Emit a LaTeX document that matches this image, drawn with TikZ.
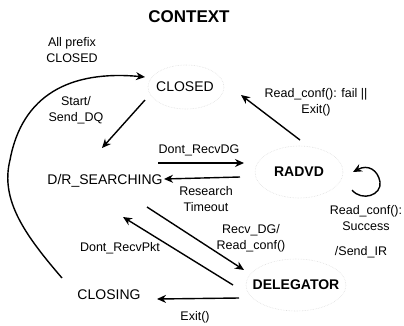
\documentclass[tikz,border=0pt]{standalone}
\usepackage{fontspec}
\setmainfont{Liberation Sans}
\usetikzlibrary{arrows.meta}
\begin{document}
\begin{tikzpicture}[x=1pt,y=-1pt,
  state/.style={inner sep=0pt,font=\fontsize{14}{14}\selectfont},
  bstate/.style={inner sep=0pt,font=\fontsize{14}{14}\selectfont\bfseries},
  lbl/.style={inner sep=0pt,align=center,font=\fontsize{12.5}{16}\selectfont},
  arr/.style={line width=1.4pt,-{Stealth[length=9pt,width=8pt]}},
  halo/.style={draw=black!13,densely dotted,line width=0.6pt}]
\useasboundingbox (0,0) rectangle (404,325);
% faint halos
\draw[halo] (186,87) ellipse (38 and 22);
\draw[halo] (299,172) ellipse (44 and 26);
\draw[halo] (296,285) ellipse (50 and 26);
% title
\node[inner sep=0pt,font=\fontsize{17}{17}\selectfont\bfseries] (title) at (189,17) {CONTEXT};
% states
\node[state] (closed) at (185,87) {CLOSED};
\node[state] (search) at (105,181) {D/R\_SEARCHING};
\node[bstate] (radvd) at (299,172) {RADVD};
\node[bstate] (deleg) at (296,285) {DELEGATOR};
\node[state] (closing) at (109,295) {CLOSING};
% labels
\node[lbl] (lprefix) at (72,50) {All prefix\\CLOSED};
\node[lbl] (lstart) at (76,110) {Start/\\Send\_DQ};
\node[lbl] (ldrdg) at (199,150) {Dont\_RecvDG};
\node[lbl] (lres) at (206,199) {Research\\Timeout};
\node[lbl] (lfail) at (316,102) {Read\_conf(): fail ||\\Exit()};
\node[lbl] (lsucc) at (366,218) {Read\_conf():\\Success};
\node[lbl] (lsend) at (361,252) {/Send\_IR};
\node[lbl] (lrecv) at (251,238) {Recv\_DG/\\Read\_conf()};
\node[lbl] (lpkt) at (120,248) {Dont\_RecvPkt};
\node[lbl] (lexit) at (195,317) {Exit()};
% connector end points
\coordinate (a1) at (62,278);
\coordinate (a2) at (145,77);
\coordinate (b1) at (145,100);
\coordinate (b2) at (102,148);
\coordinate (c1) at (158,163);
\coordinate (c2) at (244,163);
\coordinate (d1) at (240,177);
\coordinate (d2) at (164,179);
\coordinate (e1) at (300,140);
\coordinate (e2) at (241,95);
\coordinate (f1) at (147,207);
\coordinate (f2) at (244,270);
\coordinate (g1) at (233,285);
\coordinate (g2) at (123,217);
\coordinate (h1) at (239,298);
\coordinate (h2) at (157,299);
\coordinate (l1) at (352,190);
\coordinate (l2) at (353,172);
% connectors
\draw[arr] (a1) .. controls (25,235) and (0,200) .. (10,160)
               .. controls (22,95) and (70,70) .. (a2);
\draw[arr] (b1) -- (b2);
\draw[arr] (c1) -- (c2);
\draw[arr] (d1) -- (d2);
\draw[arr] (e1) -- (e2);
\draw[arr] (f1) -- (f2);
\draw[arr] (g1) -- (g2);
\draw[arr] (h1) -- (h2);
\draw[arr] (l1) .. controls (362,202) and (382,195) .. (380,182)
               .. controls (378,170) and (368,164) .. (l2);
\end{tikzpicture}
\end{document}
